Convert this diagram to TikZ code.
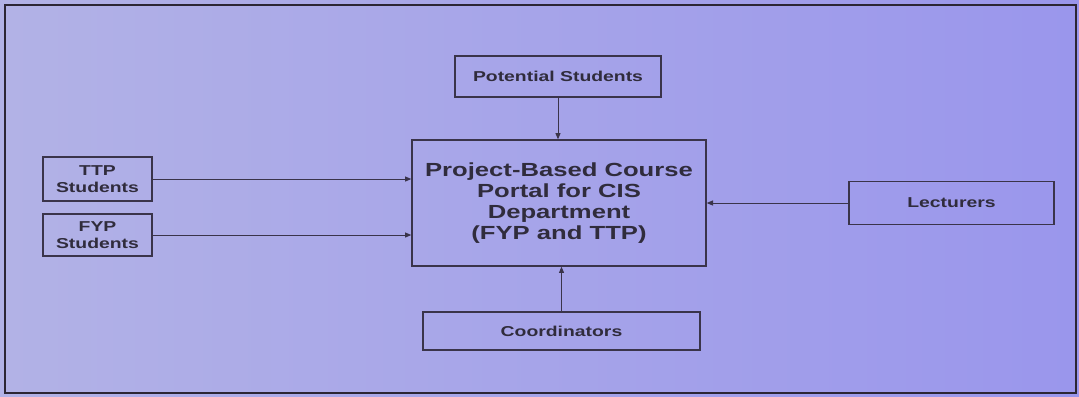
\documentclass[tikz,border=0pt]{standalone}
\usepackage{fontspec}
\newfontfamily\boxfont[FakeStretch=1.35]{Liberation Sans}
\usepackage{tikz}
\usetikzlibrary{arrows.meta}
\usepackage{xcolor}
\definecolor{pageleft}{RGB}{178,178,230}
\definecolor{pageright}{RGB}{154,150,236}
\definecolor{inkline}{RGB}{58,52,74}
\definecolor{inkframe}{RGB}{44,38,52}
\definecolor{inktext}{RGB}{48,44,60}

\begin{document}
\begin{tikzpicture}[x=0.025cm, y=-0.025cm,
  entity/.style={draw=inkline, line width=0.9pt, rectangle, text=inktext,
    font=\boxfont\bfseries\fontsize{10.2}{12}\selectfont, align=center, inner sep=2pt},
  flow/.style={draw=inkline, line width=0.7pt, -{Triangle[length=4.5pt,width=3.6pt]}}]
  % page
  \shade[left color=pageleft, right color=pageright] (0,0) rectangle (1079,396);
  \useasboundingbox (0,0) rectangle (1079,396);
  \draw[inkframe, line width=1.7pt] (5,5) rectangle (1076,393);

  % portal
  \node[entity, minimum width=7.35cm, minimum height=3.15cm,
    font=\boxfont\bfseries\fontsize{13.5}{14.9}\selectfont] (portal) at (559,203)
    {Project-Based Course\\Portal for CIS\\Department\\(FYP and TTP)};

  % actors
  \node[entity, minimum width=5.15cm, minimum height=1.025cm] (potential) at (558,76.5) {Potential Students};
  \node[entity, minimum width=2.725cm, minimum height=1.1cm] (ttp) at (97.5,179) {TTP\\Students};
  \node[entity, minimum width=2.725cm, minimum height=1.05cm] (fyp) at (97.5,235) {FYP\\Students};
  \node[entity, minimum width=5.125cm, minimum height=1.075cm] (lecturers) at (951.5,203) {Lecturers};
  \node[entity, minimum width=6.925cm, minimum height=0.95cm] (coordinators) at (561.5,331) {Coordinators};

  % Connections
  \draw[flow] (potential) -- (potential.south |- portal.north);
  \draw[flow] (ttp.east) -- (ttp.east -| portal.west);
  \draw[flow] (fyp.east) -- (fyp.east -| portal.west);
  \draw[flow] (lecturers.west) -- (lecturers.west -| portal.east);
  \draw[flow] (coordinators) -- (coordinators.north |- portal.south);
\end{tikzpicture}
\end{document}
